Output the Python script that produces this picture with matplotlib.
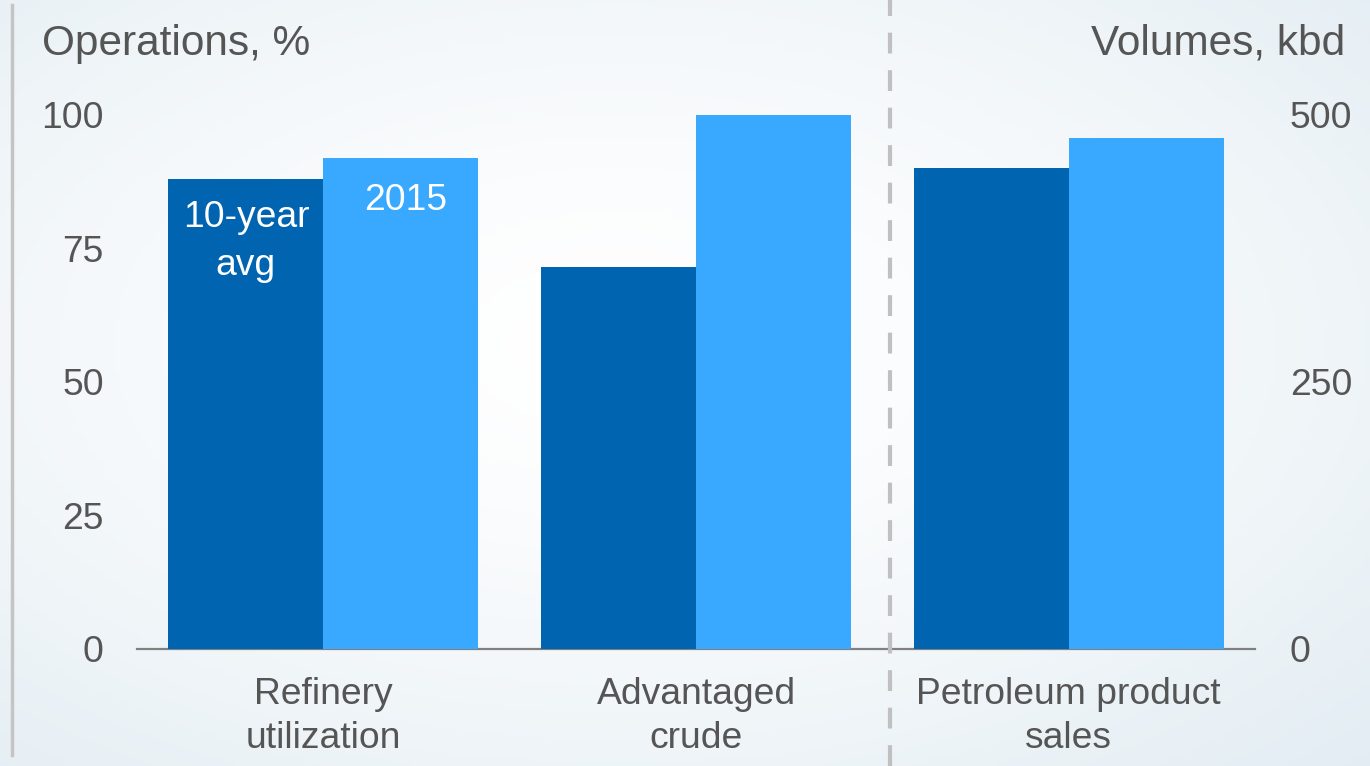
import numpy as np
import matplotlib
matplotlib.use("Agg")
from matplotlib import pyplot as plt
from matplotlib.lines import Line2D

plt.rcParams['font.family'] = ['Liberation Sans', 'DejaVu Sans']

# data
categories = ['Refinery\nutilization', 'Advantaged\ncrude', 'Petroleum product\nsales']
avg_10yr = [88, 71.5]          # operations, %
y2015 = [92, 100]              # operations, %
sales_avg = 450                # volumes, kbd
sales_2015 = 478               # volumes, kbd
left_ticks = [0, 25, 50, 75, 100]
right_ticks = [0, 250, 500]

dark = '#0064b0'
light = '#38a9ff'
grey_txt = '#555555'
fs = 26.8

fig = plt.figure(figsize=(13.7, 7.66), dpi=100)

# soft background gradient
bg = fig.add_axes([0, 0, 1, 1], zorder=-10)
yy, xx = np.mgrid[0:1:200j, 0:1:300j]
r = np.sqrt(((xx - 0.45) / 0.9) ** 2 + ((yy - 0.45) / 0.9) ** 2)
r = np.clip(r, 0, 1)
c0 = np.array([1.0, 1.0, 1.0])
c1 = np.array([0.86, 0.91, 0.94])
img = c0 + (c1 - c0) * r[..., None] ** 1.5
bg.imshow(img, aspect='auto', extent=[0, 1, 0, 1])
bg.axis('off')

ax = fig.add_axes([137 / 1370, 117 / 766, 1118 / 1370, 534 / 766])
ax.patch.set_alpha(0)
w = 155 / 373
x = np.arange(3)

ax.bar(x[:2] - w / 2, avg_10yr, w, color=dark, zorder=3)
ax.bar(x[:2] + w / 2, y2015, w, color=light, zorder=3)

ax2 = ax.twinx()
ax2.bar([x[2] - w / 2], [sales_avg], w, color=dark, zorder=3)
ax2.bar([x[2] + w / 2], [sales_2015], w, color=light, zorder=3)

ax.set_xlim(-0.5, 2.5)
ax.set_ylim(0, 100)
ax2.set_ylim(0, 500)

for a in (ax, ax2):
    for s in a.spines.values():
        s.set_visible(False)
ax.spines['bottom'].set_visible(True)
ax.spines['bottom'].set_color('#808080')
ax.spines['bottom'].set_linewidth(1.6)

ax.set_yticks(left_ticks)
ax.tick_params(axis='y', length=0, pad=24, labelsize=fs, labelcolor=grey_txt)
ax2.set_yticks(right_ticks)
ax2.tick_params(axis='y', length=0, pad=25, labelsize=fs, labelcolor=grey_txt)
ax.set_xticks(x)
ax.set_xticklabels(categories, fontsize=fs, color=grey_txt, linespacing=1.36)
ax.tick_params(axis='x', length=0, pad=20)

# in-bar legend labels
ax.text(x[0] - w / 2, 76.3, '10-year\navg', color='white', fontsize=fs,
        ha='center', va='center', linespacing=1.45, zorder=5)
ax.text(x[0] + w / 2 + 0.013, 84.0, '2015', color='white', fontsize=fs,
        ha='center', va='center', zorder=5)

fig.text(42 / 1370, 1 - 44 / 766, 'Operations, %', fontsize=30.5, color=grey_txt,
         ha='left', va='center')
fig.text(1345 / 1370, 1 - 44 / 766, 'Volumes, kbd', fontsize=30.5, color=grey_txt,
         ha='right', va='center')

# separators
fig.add_artist(Line2D([890 / 1370, 890 / 1370], [0, 1], color='#c0c0c0', lw=3,
                      linestyle=(0, (5, 4))))
fig.add_artist(Line2D([12 / 1370, 12 / 1370], [1 - 755 / 766, 1 - 5 / 766],
                      color='#c4c4c4', lw=2.5))

fig.savefig('out.png', dpi=100)
